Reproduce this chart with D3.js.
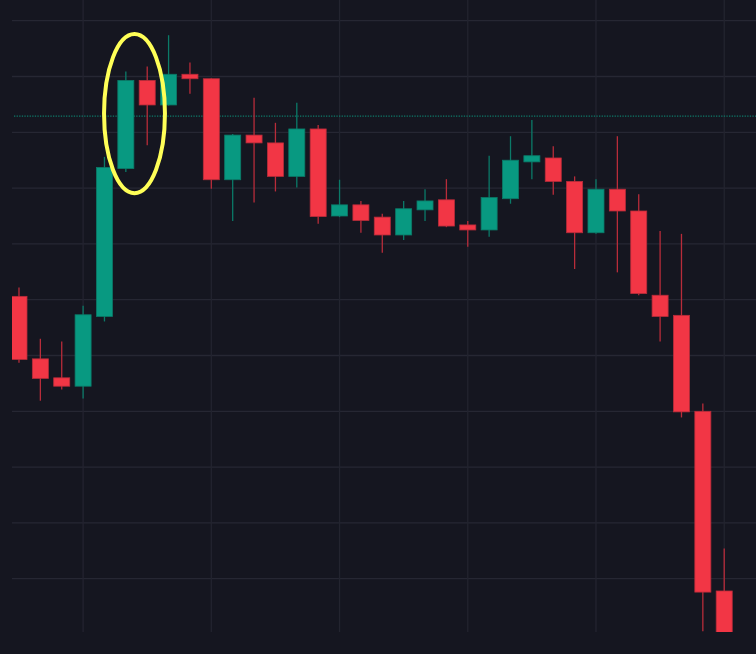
<!DOCTYPE html>
<html>
<head>
<meta charset="utf-8">
<script src="https://cdn.jsdelivr.net/npm/d3@7"></script>
<style>
  html, body { margin: 0; padding: 0; background: #151620; }
  svg { display: block; }
</style>
</head>
<body>
<div id="chart"></div>
<script>
// candles, oldest first
var opens  = [150.6, 139.4, 136.0, 134.5, 147.0, 173.5, 189.3, 184.9, 190.4, 189.6,
              171.5, 179.5, 178.1, 172.1, 180.6, 165.0, 167.0, 164.8, 161.6, 166.1,
              167.9, 163.4, 162.5, 168.1, 174.7, 175.4, 171.2, 162.0, 169.8, 165.9,
              150.8, 147.2, 130.0, 97.8];
var highs  = [152.2, 143.0, 142.5, 148.9, 175.6, 190.9, 191.8, 197.4, 192.5, 189.7,
              179.7, 186.2, 181.7, 185.3, 181.3, 171.5, 167.7, 165.4, 167.7, 169.8,
              171.6, 164.1, 175.8, 179.3, 182.2, 177.5, 172.1, 171.6, 179.3, 168.9,
              162.3, 161.8, 131.4, 105.4];
var lows   = [138.7, 131.9, 133.9, 132.3, 146.1, 172.9, 177.7, 184.8, 186.9, 169.9,
              164.1, 167.4, 169.4, 170.1, 163.6, 164.8, 162.0, 158.4, 160.7, 164.1,
              163.0, 159.5, 161.3, 167.2, 171.6, 168.8, 155.5, 161.8, 154.9, 150.8,
              142.5, 128.9, 90.6, 88.1];
var closes = [139.3, 135.9, 134.5, 147.3, 173.7, 189.3, 184.9, 190.4, 189.6, 171.5,
              179.5, 178.1, 172.1, 180.6, 164.9, 167.0, 164.2, 161.6, 166.3, 167.7,
              163.2, 162.5, 168.3, 175.0, 175.8, 171.2, 162.0, 169.8, 165.9, 151.1,
              147.0, 129.9, 97.6, 89.0];

var priceTicks = [200, 190, 180, 170, 160, 150, 140, 130, 120, 110, 100];
var timeTicks = [3, 9, 15, 21, 27, 33];
var markerPrice = 182.9;
// highlighted area (candle index span, price span)
var ringIdx = [3.98, 6.83];
var ringPrice = [169.1, 197.6];

var W = 756, H = 654;
var plot = {left: 12, right: 756, top: 0, bottom: 632};

var up = "#089981", down = "#f23645";
var upWick = "#0b7a68", downWick = "#b82c3a";

var data = opens.map(function(o, i) {
  return {i: i, o: o, h: highs[i], l: lows[i], c: closes[i]};
});

var x = d3.scaleBand()
    .domain(d3.range(data.length))
    .range([8.3, 734.9])
    .paddingInner(0.25)
    .paddingOuter(0.125);
var step = x.step();
function xc(i) { return 8.3 + step * (i + 0.5); }

var y = d3.scaleLinear()
    .domain([90.45, 203.71])
    .range([plot.bottom, plot.top]);

var svg = d3.select("#chart").append("svg")
    .attr("width", W)
    .attr("height", H);

svg.append("rect")
    .attr("width", W).attr("height", H)
    .attr("fill", "#151620");

svg.append("clipPath").attr("id", "clip")
  .append("rect")
    .attr("x", plot.left).attr("y", plot.top)
    .attr("width", plot.right - plot.left)
    .attr("height", plot.bottom - plot.top);

// grid
var grid = svg.append("g");
grid.selectAll(".hgrid")
    .data(priceTicks)
  .enter().append("line")
    .attr("x1", plot.left).attr("x2", plot.right)
    .attr("y1", function(d) { return y(d); })
    .attr("y2", function(d) { return y(d); })
    .attr("stroke", "#262733")
    .attr("stroke-width", 1.3);
grid.selectAll(".vgrid")
    .data(timeTicks)
  .enter().append("line")
    .attr("x1", function(d) { return xc(d); })
    .attr("x2", function(d) { return xc(d); })
    .attr("y1", plot.top).attr("y2", plot.bottom)
    .attr("stroke", "#23242f")
    .attr("stroke-width", 1.3);

// price marker line
svg.append("line")
    .attr("x1", 14).attr("x2", plot.right)
    .attr("y1", y(markerPrice)).attr("y2", y(markerPrice))
    .attr("stroke", "#0e7a69")
    .attr("stroke-width", 1.2)
    .attr("stroke-dasharray", "1.3,1.3");

var g = svg.append("g").attr("clip-path", "url(#clip)");

var candle = g.selectAll(".candle")
    .data(data)
  .enter().append("g");

candle.append("line")
    .attr("x1", function(d) { return xc(d.i); })
    .attr("x2", function(d) { return xc(d.i); })
    .attr("y1", function(d) { return y(d.h); })
    .attr("y2", function(d) { return y(d.l); })
    .attr("stroke", function(d) { return d.c >= d.o ? upWick : downWick; })
    .attr("stroke-width", 1.3);

candle.append("rect")
    .attr("x", function(d) { return x(d.i); })
    .attr("width", x.bandwidth())
    .attr("y", function(d) { return y(Math.max(d.o, d.c)); })
    .attr("height", function(d) { return Math.max(1, Math.abs(y(d.o) - y(d.c))); })
    .attr("fill", function(d) { return d.c >= d.o ? up : down; })
    .attr("stroke", function(d) { return d.c >= d.o ? upWick : downWick; })
    .attr("stroke-width", 0.8);

// highlight ring
svg.append("ellipse")
    .attr("cx", (xc(ringIdx[0]) + xc(ringIdx[1])) / 2)
    .attr("cy", (y(ringPrice[0]) + y(ringPrice[1])) / 2)
    .attr("rx", (xc(ringIdx[1]) - xc(ringIdx[0])) / 2)
    .attr("ry", (y(ringPrice[0]) - y(ringPrice[1])) / 2)
    .attr("fill", "none")
    .attr("stroke", "#ffff57")
    .attr("stroke-width", 4);
</script>
</body>
</html>
